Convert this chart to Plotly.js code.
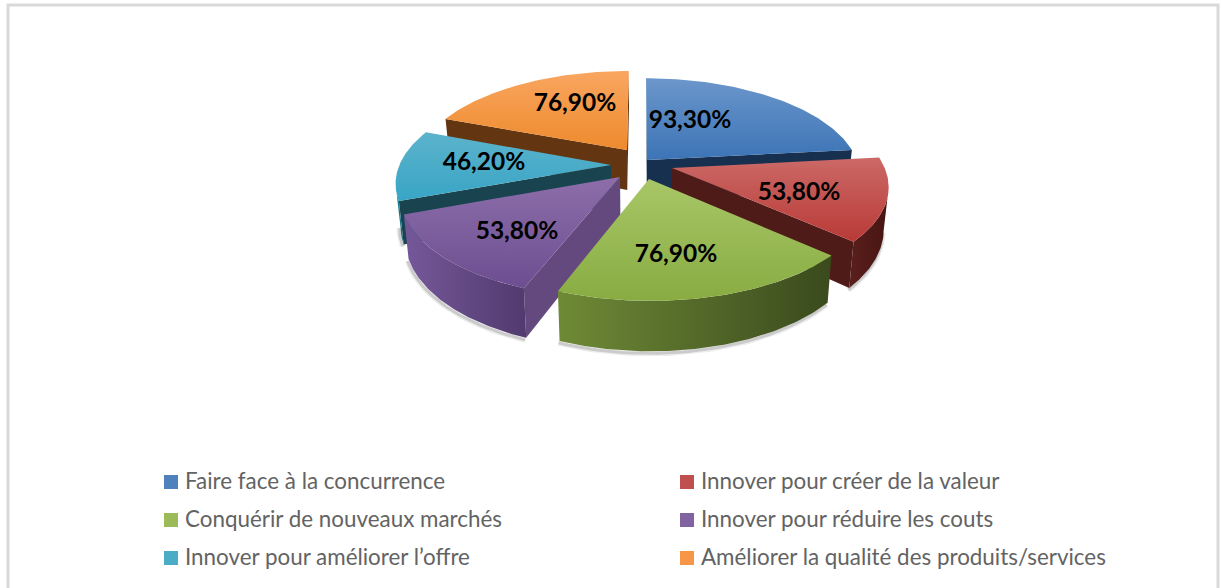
<!DOCTYPE html>
<html><head><meta charset="utf-8">
<script src="https://cdn.plot.ly/plotly-3.0.1.min.js"></script>
<style>html,body{margin:0;padding:0;background:#fff}#c{width:1221px;height:588px}</style>
</head><body><div id="c"></div>
<script>
// ---- data ----
const categories = ["Faire face à la concurrence","Innover pour créer de la valeur","Conquérir de nouveaux marchés","Innover pour réduire les couts","Innover pour améliorer l’offre","Améliorer la qualité des produits/services"];
const values = [93.3,53.8,76.9,53.8,46.2,76.9];

// ---- styles ----
const topColors = [["#3c74b6","#6b96cb"],["#b93a37","#cb6966"],["#88ac42","#a8c667"],["#6c4e91","#8d6eaa"],["#38a5c5","#5cb3cc"],["#ee8a2d","#f9a660"]];
const faceColors = ["#17304f","#4f1b19","#3f5020","#64497e","#19444f","#633611"];
const wallColors = [["#17304f","#17304f"],["#5a1f1c","#471513"],["#6f8a36","#3a4a1d"],["#75589a","#513a6e"],["#1f8aa3","#175f72"],["#633611","#633611"]];
const legendColors = ["#4f81bd","#c0504d","#9bbb59","#8064a2","#4bacc6","#f79646"];

// ---- drawing geometry (3D pie projection, in pixels) ----
const cx=640, cy=166, Rx=212, Ry=97, persp=0.165, depth=41, shrink=0.98;
const apexX=[647,672,649,620,611,627], apexY=[160,168,179,177,165,150];
const labelX=[690,799,676,517,484,575], labelY=[122,194,256,233,164,105];
const legendX=[171,687,171,687,171,687], legendY=[482,482,520,520,558,558];
const order=[0,5,4,1,3,2];
const viewerV=-1/persp;

function proj(u,v,low){
  const s=1/(1+persp*v);
  let X=cx+Rx*u*s, Y=cy-Ry*v*s;
  if(low){Y+=depth*s; X=cx+(X-cx)*shrink;}
  return [X,Y];
}
function toDisc(X,Y){
  const yp=cy-Y, v=yp/(Ry-persp*yp);
  return [(X-cx)*(1+persp*v)/Rx, v];
}
function poly(pts){
  return {x:pts.map(p=>p[0]).concat(pts[0][0]),y:pts.map(p=>p[1]).concat(pts[0][1])};
}
const traces=[];
function addFill(pts,colors,dir){
  const p=poly(pts);
  const t={type:"scatter",mode:"lines",x:p.x,y:p.y,fill:"toself",line:{width:0},hoverinfo:"skip",showlegend:false};
  if(Array.isArray(colors)){
    t.fillcolor=colors[0];
    t.fillgradient={type:dir,colorscale:[[0,colors[0]],[1,colors[1]]]};
  } else t.fillcolor=colors;
  traces.push(t);
}
const total=values.reduce((a,b)=>a+b,0);
let acc=0;
const slices=values.map((val,i)=>{
  const a0=acc/total*2*Math.PI; acc+=val; const a1=acc/total*2*Math.PI;
  return {i,a0,a1,ap:toDisc(apexX[i],apexY[i])};
});
function rim(sl,a){return [sl.ap[0]+Math.sin(a),sl.ap[1]+Math.cos(a)];}

// soft shadow under outer walls
order.forEach(idx=>{
  const sl=slices[idx],pts=[];
  for(let n=0;n<=60;n++){
    const a=sl.a0+(sl.a1-sl.a0)*n/60, r=rim(sl,a);
    const nx=Math.sin(a),nv=Math.cos(a);
    if(nx*(0-sl.ap[0])+nv*(viewerV-sl.ap[1])-1>0){const q=proj(r[0],r[1],true);pts.push([q[0]-1,q[1]+2]);}
  }
  if(pts.length>1){
    [[6,"rgba(0,0,0,0.07)"],[3,"rgba(0,0,0,0.14)"]].forEach(st=>traces.push({type:"scatter",mode:"lines",x:pts.map(p=>p[0]),y:pts.map(p=>p[1]),line:{width:st[0],color:st[1]},hoverinfo:"skip",showlegend:false}));
  }
});

order.forEach(idx=>{
  const sl=slices[idx],[au,av]=sl.ap;
  // radial faces visible from the viewer
  [[sl.a0,-1],[sl.a1,1]].forEach(([a,sg])=>{
    const nu=sg*Math.cos(a),nv=-sg*Math.sin(a);
    if(nu*(0-au)+nv*(viewerV-av)>0){
      const r=rim(sl,a);
      addFill([proj(au,av,false),proj(r[0],r[1],false),proj(r[0],r[1],true),proj(au,av,true)],faceColors[idx]);
    }
  });
  // outer wall: the part of the arc that faces the viewer
  const topE=[],lowE=[];
  for(let n=0;n<=80;n++){
    const a=sl.a0+(sl.a1-sl.a0)*n/80,nx=Math.sin(a),nv=Math.cos(a);
    if(nx*(0-au)+nv*(viewerV-av)-1>0){
      const r=rim(sl,a);topE.push(proj(r[0],r[1],false));lowE.push(proj(r[0],r[1],true));
    }
  }
  if(topE.length>1) addFill(topE.concat(lowE.reverse()),wallColors[idx],"horizontal");
  // top face
  const pts=[proj(au,av,false)];
  for(let n=0;n<=80;n++){
    const r=rim(sl,sl.a0+(sl.a1-sl.a0)*n/80);
    pts.push(proj(r[0],r[1],false));
  }
  addFill(pts,topColors[idx],"vertical");
});

// value labels
traces.push({type:"scatter",mode:"text",x:labelX,y:labelY,
  text:values.map(v=>v.toFixed(2).replace(".",",")+"%"),textposition:"middle center",
  textfont:{family:"Lato, Carlito, sans-serif",size:24.5,color:"#000",weight:700},hoverinfo:"skip",showlegend:false});
// legend
traces.push({type:"scatter",mode:"markers",x:legendX,y:legendY,
  marker:{symbol:"square",size:14,color:legendColors,line:{width:0}},hoverinfo:"skip",showlegend:false});
traces.push({type:"scatter",mode:"text",x:legendX.map(x=>x+14),y:legendY.map(y=>y+1),text:categories,textposition:"middle right",
  textfont:{family:"Lato, sans-serif",size:22.4,color:"#636363"},hoverinfo:"skip",showlegend:false});

const layout={
  width:1221,height:588,margin:{l:0,r:0,t:0,b:0},
  paper_bgcolor:"#fff",plot_bgcolor:"#fff",showlegend:false,
  xaxis:{range:[0,1221],visible:false,fixedrange:true},
  yaxis:{range:[588,0],visible:false,fixedrange:true},
  shapes:[{type:"rect",xref:"x",yref:"y",x0:8,y0:5,x1:1218,y1:600,line:{color:"#d9d9d9",width:3},layer:"below"}]
};
Plotly.newPlot("c",traces,layout,{displayModeBar:false,staticPlot:true});
</script></body></html>
